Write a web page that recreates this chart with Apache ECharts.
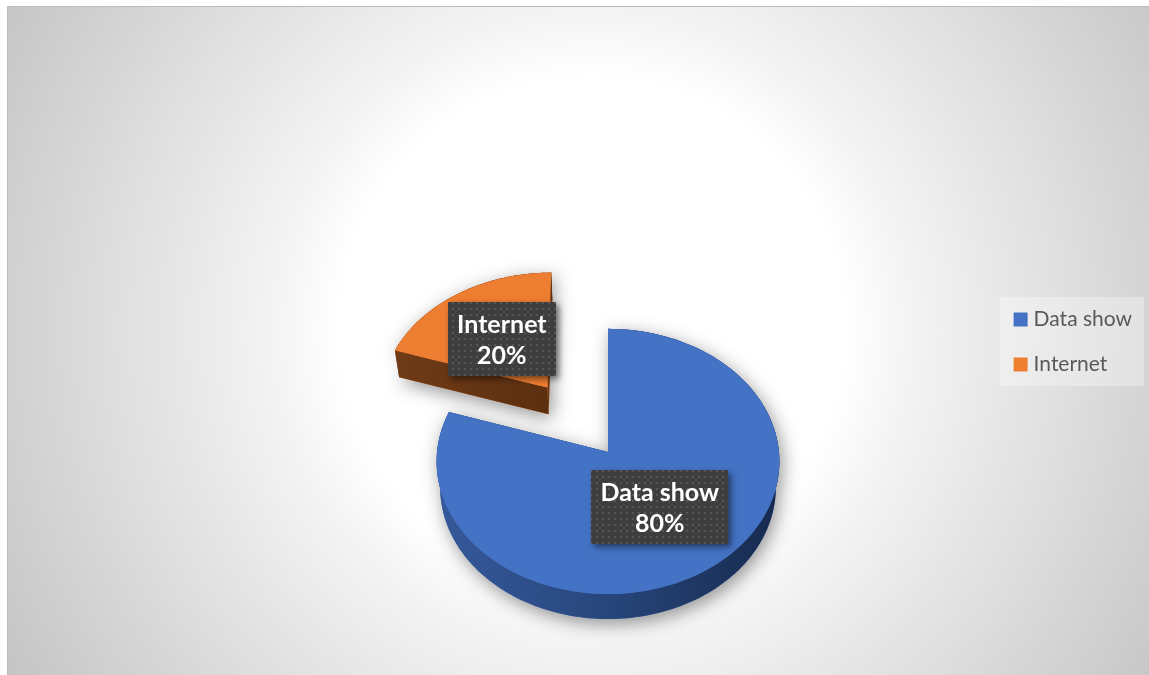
<!DOCTYPE html>
<html>
<head>
<meta charset="utf-8">
<script src="https://cdn.jsdelivr.net/npm/echarts@6/dist/echarts.min.js"></script>
<style>
  html, body { margin: 0; padding: 0; background: #ffffff; }
  #chart { width: 1149px; height: 675px; }
</style>
</head>
<body>
<div id="chart"></div>
<script>
// ---- data ----
const categories = ['Data show', 'Internet'];
const values = [80, 20];
const sliceColors = ['#4472c4', '#ed7d31'];

// ---- 3D pie camera: perspective view looking down on a unit disc ----
const VIEW = {
  cx: 608, cy: 452,          // screen position of the disc centre
  focal: 1530,               // focal length (px)
  dist: 8.95,                // camera distance in disc radii
  tilt: 50.5 * Math.PI / 180,
  depth: 0.246               // disc thickness in radii
};
const EXPLODE = [0, 0.625];  // slice offset from the centre, in radii
const LABEL_RADIUS = 0.5;
const SIDE_COLORS = [
  { rim: ['#36599b', '#27467b', '#172a4e'], cut: ['#2f4f8a', '#294577'] },
  { rim: ['#7a3f16', '#5d2e0e', '#4a250b'], cut: ['#6f3b17', '#5c2f10'] }
];

const total = values.reduce((a, b) => a + b, 0);

function project(X, Y, Z) {
  const ca = Math.cos(VIEW.tilt), sa = Math.sin(VIEW.tilt);
  const up = Y * ca + Z * sa;
  const d = VIEW.dist + Z * ca - Y * sa;
  return [VIEW.cx + VIEW.focal * X / d, VIEW.cy - VIEW.focal * up / d];
}

function arcPoints(ox, oz, a0, a1, Y) {
  const n = Math.max(6, Math.ceil((a1 - a0) / (Math.PI / 120)));
  const pts = [];
  for (let i = 0; i <= n; i++) {
    const t = a0 + (a1 - a0) * i / n;
    pts.push(project(ox + Math.sin(t), Y, oz + Math.cos(t)));
  }
  return pts;
}

function linear(colors) {
  return {
    type: 'linear', x: 0, y: 0, x2: 1, y2: 0,
    colorStops: colors.map((c, i) => ({ offset: i / (colors.length - 1), color: c }))
  };
}

function toPath(pts) {
  return 'M' + pts.map(p => p[0].toFixed(2) + ' ' + p[1].toFixed(2)).join(' L') + ' Z ';
}

// text measurement for the label boxes
const measureCtx = document.createElement('canvas').getContext('2d');
function textWidth(str, font) {
  measureCtx.font = font;
  return measureCtx.measureText(str).width;
}

// dotted dark tile used for the data label boxes
const dotTile = document.createElement('canvas');
dotTile.width = 6; dotTile.height = 6;
(function () {
  const g = dotTile.getContext('2d');
  g.fillStyle = '#3e3e3e'; g.fillRect(0, 0, 6, 6);
  g.fillStyle = '#565656'; g.fillRect(2, 2, 2, 2);
})();

const LABEL_FONT = 'bold 25px Lato';

function renderSlice(idx) {
  return function (params, api) {
    const v = api.value(0);
    let before = 0;
    for (let k = 0; k < idx; k++) before += values[k];
    const a0 = before / total * 2 * Math.PI;
    const a1 = (before + v) / total * 2 * Math.PI;
    const mid = (a0 + a1) / 2;
    const ox = EXPLODE[idx] * Math.sin(mid);
    const oz = EXPLODE[idx] * Math.cos(mid);
    const h = VIEW.depth;

    const topArc = arcPoints(ox, oz, a0, a1, 0);
    const botArc = arcPoints(ox, oz, a0, a1, -h);
    const apexT = project(ox, 0, oz);
    const apexB = project(ox, -h, oz);
    const topPoly = [apexT].concat(topArc);
    const botPoly = [apexB].concat(botArc);
    const children = [];

    // soft cast shadow of the whole slice
    children.push({
      type: 'path',
      shape: { pathData: toPath(topPoly) + toPath(botPoly) },
      style: {
        fill: sliceColors[idx],
        shadowBlur: 18, shadowColor: 'rgba(0,0,0,0.42)',
        shadowOffsetX: 3, shadowOffsetY: 5
      }
    });
    // outer rim
    children.push({
      type: 'polygon',
      shape: { points: topArc.concat(botArc.slice().reverse()) },
      style: { fill: linear(SIDE_COLORS[idx].rim) }
    });
    // cut faces
    [[topArc[0], botArc[0]], [topArc[topArc.length - 1], botArc[botArc.length - 1]]]
      .forEach(([t, b]) => {
        children.push({
          type: 'polygon',
          shape: { points: [apexT, t, b, apexB] },
          style: { fill: linear(SIDE_COLORS[idx].cut) }
        });
      });
    // top face
    children.push({
      type: 'polygon',
      shape: { points: topPoly },
      style: { fill: sliceColors[idx] }
    });

    // data label
    const lp = project(ox + LABEL_RADIUS * Math.sin(mid), 0, oz + LABEL_RADIUS * Math.cos(mid));
    const pct = Math.round(v / total * 100) + '%';
    const w = Math.max(textWidth(categories[idx], LABEL_FONT), textWidth(pct, LABEL_FONT)) + 18;
    const bh = 74;
    children.push({
      type: 'rect',
      shape: { x: Math.round(lp[0] - w / 2), y: Math.round(lp[1] - bh / 2), width: Math.round(w), height: bh },
      style: {
        fill: { image: dotTile, repeat: 'repeat' },
        shadowBlur: 6, shadowColor: 'rgba(0,0,0,0.5)',
        shadowOffsetX: 3, shadowOffsetY: 3
      }
    });
    children.push({
      type: 'text',
      style: {
        text: categories[idx] + '\n' + pct,
        x: lp[0], y: lp[1] + 1,
        align: 'center', verticalAlign: 'middle',
        fill: '#ffffff', font: LABEL_FONT, lineHeight: 31
      }
    });
    return { type: 'group', children: children };
  };
}

const chart = echarts.init(document.getElementById('chart'), null, { renderer: 'canvas' });

chart.setOption({
  animation: false,
  backgroundColor: '#ffffff',
  graphic: [
    {
      type: 'rect', z: -10, silent: true,
      shape: { x: 7, y: 6, width: 1142, height: 669 },
      style: {
        fill: {
          type: 'radial', x: 592, y: 330, r: 700, global: true,
          colorStops: [
            { offset: 0, color: '#ffffff' },
            { offset: 0.36, color: '#ffffff' },
            { offset: 0.46, color: '#f3f3f3' },
            { offset: 0.84, color: '#d0d0d0' },
            { offset: 1, color: '#c2c2c2' }
          ]
        }
      }
    },
    { type: 'line', z: -9, silent: true, shape: { x1: 7, y1: 6.5, x2: 1149, y2: 6.5 }, style: { stroke: '#bcbcbc', lineWidth: 1 } },
    { type: 'line', z: -9, silent: true, shape: { x1: 7.5, y1: 6, x2: 7.5, y2: 675 }, style: { stroke: '#bcbcbc', lineWidth: 1 } }
  ],
  legend: {
    data: categories,
    orient: 'vertical',
    right: 5,
    top: 297,
    icon: 'rect',
    itemWidth: 14,
    itemHeight: 14,
    itemGap: 24,
    itemStyle: { borderWidth: 0 },
    padding: [12, 12, 11, 14],
    backgroundColor: 'rgba(255,255,255,0.32)',
    textStyle: { fontFamily: 'Lato', fontSize: 21, color: '#595959', padding: [0, 0, 0, 1] },
    selectedMode: false
  },
  series: categories.map((name, i) => ({
    type: 'custom',
    name: name,
    coordinateSystem: 'none',
    itemStyle: { color: sliceColors[i] },
    data: [[values[i]]],
    renderItem: renderSlice(i)
  }))
});
</script>
</body>
</html>
